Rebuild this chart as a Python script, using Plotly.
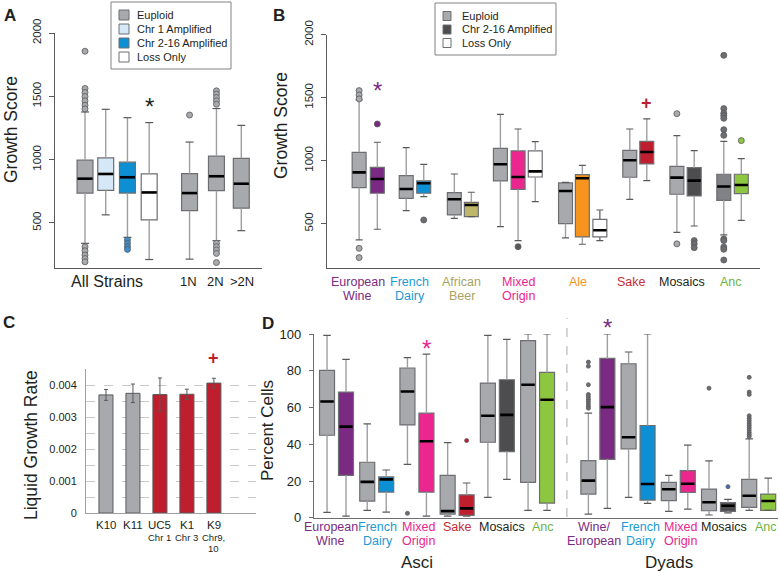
import plotly.graph_objects as go

W, H = 780, 572
FONT = "Liberation Sans, Arial, Helvetica, sans-serif"

GREY = "#A7A9AC"
DGREY = "#808285"
DARK = "#4D4D4F"
LBLUE = "#D5E8F7"
BLUE = "#0D8FD3"
WHITE = "#FFFFFF"
PURPLE = "#7B2A83"
PINK = "#EC268F"
OLIVE = "#BDB76B"
ORANGE = "#F7941D"
RED = "#BE1E2D"
GREEN = "#8DC63F"

# ---------------- Panel A data (growth score) ----------------
A_GROUP_LABELS = ["All Strains", "1N", "2N", ">2N"]
A_Q1 = [735, 756, 735, 523, 597, 754, 616]
A_MED = [849, 886, 860, 740, 735, 868, 809]
A_Q3 = [995, 1013, 979, 886, 889, 1027, 1010]
A_LO = [338, 563, 385, 210, 213, 359, 438]
A_HI = [1376, 1397, 1331, 1292, 1138, 1403, 1270]
A_OUT = [
    [1856, 1562, 1530, 1498, 1464, 1429, 1400, 311, 279, 245, 218, 192],
    [],
    [364, 337, 311, 290],
    [],
    [1352],
    [1835, 1543, 1517, 1490, 1464, 1437, 338, 311, 285, 258, 186],
    [],
]
A_LEGEND = ["Euploid", "Chr 1 Amplified", "Chr 2-16 Amplified", "Loss Only"]

# ---------------- Panel B data (growth score by clade) ----------------
B_LABEL1 = ["European", "French", "African", "Mixed", "Ale", "Sake", "Mosaics", "Anc"]
B_LABEL2 = ["Wine", "Dairy", "Beer", "Origin", "", "", "", ""]
B_Q1 = [786, 741, 701, 741, 569, 556, 839, 772, 870, 500, 394, 394, 868, 974, 733, 720, 685, 738]
B_MED = [907, 854, 775, 820, 693, 648, 971, 870, 915, 759, 860, 447, 1003, 1069, 865, 841, 794, 807]
B_Q3 = [1066, 947, 881, 839, 746, 669, 1098, 1077, 1077, 823, 889, 534, 1082, 1153, 955, 944, 892, 892]
B_LO = [370, 455, 603, 714, 542, 556, 476, 365, 675, 386, 336, 365, 693, 841, 431, 481, 410, 526]
B_HI = [1482, 1146, 1103, 971, 894, 749, 1368, 1251, 1151, 828, 963, 608, 1251, 1331, 1198, 1079, 1153, 1016]
B_OUT = [
    [1556, 1521, 1490, 304, 230], [1291],
    [], [529],
    [], [],
    [], [317], [],
    [], [], [],
    [], [],
    [1373, 339], [365, 339, 309],
    [1836, 1413, 1376, 1357, 1336, 1246, 1201, 378, 365, 315, 296, 211], [1159],
]
B_LEGEND = ["Euploid", "Chr 2-16 Amplified", "Loss Only"]

# ---------------- Panel C data (liquid growth rate) ----------------
C_LABELS = ["K10", "K11", "UC5", "K1", "K9"]
C_SUB1 = ["", "", "Chr 1", "Chr 3", "Chr9,"]
C_SUB2 = ["", "", "", "", "10"]
C_VALUES = [0.00369, 0.00374, 0.00370, 0.00371, 0.00406]
C_ERR = [0.00017, 0.00029, 0.00052, 0.00016, 0.00015]
C_TICKS = [0, 0.001, 0.002, 0.003, 0.004]
C_TICKTEXT = ["0", "0.001", "0.002", "0.003", "0.004"]

# ---------------- Panel D data (percent cells) ----------------
D_ASCI_L1 = ["European", "French", "Mixed", "Sake", "Mosaics", "Anc"]
D_ASCI_L2 = ["Wine", "Dairy", "Origin", "", "", ""]
D_DYAD_L1 = ["Wine/", "French", "Mixed", "Mosaics", "Anc"]
D_DYAD_L2 = ["European", "Dairy", "Origin", "", ""]
D_Q1 = [44.9, 23.1, 9.1, 14.0, 50.5, 14.0, 2.0, 1.3, 41.1, 36.0, 19.3, 8.0,
        12.9, 31.8, 37.5, 9.6, 9.3, 13.8, 3.8, 3.5, 5.6, 4.0]
D_MED = [63.3, 49.6, 19.5, 20.9, 68.7, 41.6, 3.6, 5.1, 55.5, 56.0, 72.4, 64.2,
         20.2, 60.2, 43.8, 18.4, 15.5, 18.5, 8.4, 6.5, 12.0, 9.1]
D_Q3 = [80.2, 68.4, 30.2, 22.2, 81.5, 56.9, 23.1, 12.5, 73.3, 75.1, 96.4, 79.1,
        31.1, 86.7, 83.8, 50.2, 19.3, 25.6, 15.6, 8.2, 20.9, 12.9]
D_LO = [2.9, 0.9, 4.0, 3.1, 29.1, 0.9, 0.9, 0.9, 11.1, 20.9, 4.0, 4.0,
        2.0, 5.1, 11.1, 7.8, 3.5, 4.7, 1.5, 2.7, 4.0, 4.0]
D_HI = [99.3, 86.2, 51.1, 26.0, 87.1, 89.1, 40.9, 18.9, 99.3, 97.1, 100, 100,
        56.9, 100, 90.2, 100, 23.1, 39.5, 30.9, 10.0, 42.9, 21.6]
D_OUT = [[], [], [], [], [2.4], [], [], [42.0], [], [], [], [],
         [100.2, 84.7, 82.5, 72.4, 67.1, 65.8, 64.5, 63.3, 62.0, 60.7, 59.6], [],
         [], [], [], [], [70.5], [16.9],
         [76.4, 68.4, 67.1, 55.5, 54.2, 52.9, 51.6, 50.4, 49.1, 47.8, 46.5, 45.3, 44.2], []]
D_TICKS = [0, 20, 40, 60, 80, 100]

# ---------------- layout positions / styles ----------------
A_POS = [1.45, 2.45, 3.5, 4.55, 6.5, 7.8, 9.0]
A_FILL = [GREY, LBLUE, BLUE, WHITE, GREY, GREY, GREY]
A_OUTC = [GREY, GREY, "#3A8FD0", GREY, GREY, GREY, GREY]
A_LABEL_POS = [2.51, 6.47, 7.73, 9.03]
A_LABEL_SIZE = [16, 13, 13, 13]

B_POS = [1.89, 2.96, 4.66, 5.69, 7.49, 8.49, 10.2, 11.24, 12.25,
         14.03, 15.02, 16.05, 17.81, 18.81, 20.58, 21.6, 23.34, 24.37]
B_FILL = [GREY, PURPLE, GREY, BLUE, GREY, OLIVE, GREY, PINK, WHITE,
          GREY, ORANGE, WHITE, GREY, RED, GREY, DARK, DGREY, GREEN]
B_OUTC = [GREY, PURPLE, GREY, "#6D6E71", GREY, GREY, GREY, "#58595B", GREY,
          GREY, GREY, GREY, GREY, GREY, GREY, "#6D6E71", "#6D6E71", GREEN]
B_DASHED = [False] * 11 + [True] + [False] * 6
B_LABEL_POS = [1.82, 4.88, 7.94, 11.24, 14.76, 17.94, 20.88, 23.76]
B_LABEL_COL = [PURPLE, "#1B9AD6", "#A9A35E", PINK, ORANGE, "#C62B32", "#231F20", "#6DB33F"]

C_POS = [1, 2, 3, 4, 5]
C_COL = [GREY, GREY, RED, RED, RED]

D_GROUPS = [0, 0, 1, 1, 2, 2, 3, 3, 4, 4, 5, 5, 6.5, 6.5, 7.5, 7.5, 8.5, 8.5, 9.5, 9.5, 10.5, 10.5]
D_POS = [g + (-0.236 if i % 2 == 0 else 0.236) for i, g in enumerate(D_GROUPS)]
D_FILL = [GREY, PURPLE, GREY, BLUE, GREY, PINK, GREY, RED, GREY, DARK, GREY, GREEN,
          GREY, PURPLE, GREY, BLUE, GREY, PINK, GREY, DARK, GREY, GREEN]
D_OUTC = ["#6D6E71"] * 22
D_OUTC[7] = RED
D_OUTC[19] = "#3F6FAE"
D_ASCI_POS = [-0.14, 1.03, 2.05, 3.0, 4.12, 5.14]
D_DYAD_POS = [6.41, 7.57, 8.56, 9.63, 10.68]
D_LCOL_A = [PURPLE, "#1B9AD6", PINK, "#C62B32", "#231F20", "#6DB33F"]
D_LCOL_D = [PURPLE, "#1B9AD6", PINK, "#231F20", "#6DB33F"]


def px(x):
    return x / W


def py(y):
    return 1 - y / H


fig = go.Figure()


def add_boxes(ax, pos, q1, med, q3, lo, hi, fills, w, outs, outc, msize, dashed=None):
    xa, ya = "x" + ax, "y" + ax
    if dashed is None:
        dashed = [False] * len(pos)
    for style in (False, True):
        wx, wy = [], []
        for i, p in enumerate(pos):
            if dashed[i] != style:
                continue
            wx += [p, p, None, p, p, None]
            wy += [q3[i], hi[i], None, q1[i], lo[i], None]
        if wx:
            fig.add_trace(go.Scatter(x=wx, y=wy, mode="lines",
                                     line=dict(color="#9D9FA2" if not style else "#6D6E71",
                                               width=1.4, dash="dash" if style else "solid"),
                                     xaxis=xa, yaxis=ya, hoverinfo="skip", showlegend=False))
    cx, cy = [], []
    for i, p in enumerate(pos):
        cx += [p - w / 4, p + w / 4, None, p - w / 4, p + w / 4, None]
        cy += [hi[i], hi[i], None, lo[i], lo[i], None]
    fig.add_trace(go.Scatter(x=cx, y=cy, mode="lines", line=dict(color="#58595B", width=1.2),
                             xaxis=xa, yaxis=ya, hoverinfo="skip", showlegend=False))
    for i, p in enumerate(pos):
        fig.add_trace(go.Box(x=[p], q1=[q1[i]], median=[med[i]], q3=[q3[i]],
                             lowerfence=[q1[i]], upperfence=[q3[i]], width=w, whiskerwidth=0,
                             fillcolor=fills[i], line=dict(color="#6D6E71", width=1.2),
                             boxpoints=False, xaxis=xa, yaxis=ya, hoverinfo="skip",
                             showlegend=False))
    mx, my = [], []
    for i, p in enumerate(pos):
        mx += [p - w / 2 + 0.02, p + w / 2 - 0.02, None]
        my += [med[i], med[i], None]
    fig.add_trace(go.Scatter(x=mx, y=my, mode="lines", line=dict(color="black", width=2.6),
                             xaxis=xa, yaxis=ya, hoverinfo="skip", showlegend=False))
    for i, o in enumerate(outs):
        if o:
            fig.add_trace(go.Scatter(x=[pos[i]] * len(o), y=o, mode="markers",
                                     marker=dict(size=msize, color=outc[i],
                                                 line=dict(color="#58595B", width=0.8)),
                                     cliponaxis=False, xaxis=xa, yaxis=ya,
                                     hoverinfo="skip", showlegend=False))


add_boxes("", A_POS, A_Q1, A_MED, A_Q3, A_LO, A_HI, A_FILL, 0.77, A_OUT, A_OUTC, 6)
add_boxes("2", B_POS, B_Q1, B_MED, B_Q3, B_LO, B_HI, B_FILL, 0.82, B_OUT, B_OUTC, 6, B_DASHED)
add_boxes("4", D_POS, D_Q1, D_MED, D_Q3, D_LO, D_HI, D_FILL, 0.373, D_OUT, D_OUTC, 4)

fig.add_trace(go.Bar(x=C_POS, y=C_VALUES, width=0.52,
                     marker=dict(color=C_COL, line=dict(color="#58595B", width=1)),
                     error_y=dict(type="data", array=C_ERR, color="#58595B", thickness=1, width=2),
                     xaxis="x3", yaxis="y3", hoverinfo="skip", showlegend=False))

AX_LINE = "#58595B"
TFONT = dict(family=FONT, size=11.5, color="#231F20")

layout = dict(
    template="none",
    width=W, height=H, margin=dict(l=0, r=0, t=0, b=0, pad=0, autoexpand=False),
    paper_bgcolor="white", plot_bgcolor="white", showlegend=False,
    font=dict(family=FONT, color="#231F20"),
    xaxis=dict(domain=[px(55), px(262)], range=[0, 10], anchor="y", showline=True,
               linecolor=AX_LINE, linewidth=1.2, showticklabels=False, ticks="",
               showgrid=False, zeroline=False, automargin=False),
    yaxis=dict(domain=[py(268), py(33)], range=[143, 2000], anchor="x", showline=True,
               linecolor=AX_LINE, linewidth=1.2, tickvals=[500, 1000, 1500, 2000],
               tickangle=-90, ticks="outside", ticklen=5, tickcolor=AX_LINE,
               tickfont=TFONT, showgrid=False, zeroline=False, ticklabelstandoff=3,
               automargin=False),
    xaxis2=dict(domain=[px(327), px(760)], range=[0, 25.47], anchor="y2", showline=True,
                linecolor=AX_LINE, linewidth=1.2, showticklabels=False, ticks="",
                showgrid=False, zeroline=False, automargin=False),
    yaxis2=dict(domain=[py(268.3), py(34.7)], range=[145, 2000], anchor="x2", showline=True,
                linecolor=AX_LINE, linewidth=1.2, tickvals=[500, 1000, 1500, 2000],
                tickangle=-90, ticks="outside", ticklen=5, tickcolor=AX_LINE,
                tickfont=TFONT, showgrid=False, zeroline=False, ticklabelstandoff=3,
                automargin=False),
    xaxis3=dict(domain=[px(86), px(256)], range=[0.26, 6.56], anchor="y3", showline=True,
                linecolor="#9D9FA2", linewidth=1.2, showticklabels=False, ticks="",
                showgrid=False, zeroline=False, automargin=False),
    yaxis3=dict(domain=[py(513), py(369)], range=[0, 0.0045], anchor="x3", showline=True,
                linecolor="#9D9FA2", linewidth=1, tickvals=C_TICKS, ticktext=C_TICKTEXT,
                ticks="", tickfont=dict(family=FONT, size=11, color="#231F20"),
                showgrid=True, gridcolor="#C8C8C8", griddash="dash", gridwidth=1,
                minor=dict(tickvals=[0.0005, 0.0015, 0.0025, 0.0035, 0.0045], showgrid=True,
                           gridcolor="#C8C8C8", griddash="dash", ticks=""),
                zeroline=False, ticklabelstandoff=6, automargin=False),
    xaxis4=dict(domain=[px(314), px(778)], range=[-0.56, 10.98], anchor="y4", showline=True,
                linecolor="#6D6E71", linewidth=1.2, showticklabels=False, ticks="",
                showgrid=False, zeroline=False, automargin=False),
    yaxis4=dict(domain=[py(517.75), py(334)], range=[0, 100], anchor="x4", showline=True,
                linecolor="#6D6E71", linewidth=1.2, tickvals=D_TICKS, ticks="outside",
                ticklen=4, tickcolor="#6D6E71",
                tickfont=dict(family=FONT, size=13, color="#231F20"),
                showgrid=False, zeroline=False, ticklabelstandoff=5, automargin=False),
)
fig.update_layout(**layout)

ann = []
shapes = []


def text(x, y, s, size, color="#231F20", xref="paper", yref="paper", angle=0, bold=False,
         xanchor="center", yanchor="middle"):
    ann.append(dict(x=x, y=y, xref=xref, yref=yref, text=("<b>%s</b>" % s) if bold else s,
                    showarrow=False, textangle=angle, xanchor=xanchor, yanchor=yanchor,
                    font=dict(family=FONT, size=size, color=color)))


# panel letters
text(px(10), py(15), "A", 17, bold=True)
text(px(279), py(15), "B", 17, bold=True)
text(px(9), py(322), "C", 17, bold=True)
text(px(268), py(323), "D", 17, bold=True)

# axis titles
text(px(11), py(130), "Growth Score", 17.5, angle=-90)
text(px(281), py(126), "Growth Score", 17.5, angle=-90)
text(px(31), py(445), "Liquid Growth Rate", 17.5, angle=-90)
text(px(267), py(431), "Percent Cells", 17, angle=-90)

# panel A category labels
for lab, pos, sz in zip(A_GROUP_LABELS, A_LABEL_POS, A_LABEL_SIZE):
    text(pos, py(281), lab, sz, xref="x")

# panel B category labels
for l1, l2, pos, col in zip(B_LABEL1, B_LABEL2, B_LABEL_POS, B_LABEL_COL):
    text(pos, py(282), l1, 12.5, color=col, xref="x2")
    if l2:
        text(pos, py(296), l2, 12.5, color=col, xref="x2")

# panel C labels
for lab, s1, s2, pos in zip(C_LABELS, C_SUB1, C_SUB2, C_POS):
    text(pos, py(525), lab, 11.5, xref="x3")
    if s1:
        text(pos, py(537), s1, 9.5, xref="x3")
    if s2:
        text(pos, py(548), s2, 9.5, xref="x3")

# panel D labels
for l1, l2, pos, col in zip(D_ASCI_L1, D_ASCI_L2, D_ASCI_POS, D_LCOL_A):
    text(pos, py(527), l1, 12.5, color=col, xref="x4")
    if l2:
        text(pos, py(541), l2, 12.5, color=col, xref="x4")
for l1, l2, pos, col in zip(D_DYAD_L1, D_DYAD_L2, D_DYAD_POS, D_LCOL_D):
    text(pos, py(527), l1, 12.5, color=col, xref="x4")
    if l2:
        text(pos, py(541), l2, 12.5, color=col, xref="x4")
text(px(417), py(562), "Asci", 17)
text(px(669), py(562), "Dyads", 17)

# significance marks
text(A_POS[3], py(106), "*", 24, xref="x")
text(B_POS[1], py(91), "*", 24, color=PURPLE, xref="x2")
text(B_POS[13], py(103), "+", 18, color=RED, xref="x2", bold=True)
text(C_POS[4], py(358), "+", 18, color=RED, xref="x3", bold=True)
text(D_POS[5], py(348), "*", 24, color=PINK, xref="x4")
text(D_POS[13], py(327), "*", 24, color=PURPLE, xref="x4")

# dashed separator in D
shapes.append(dict(type="line", xref="x4", yref="paper", x0=5.73, x1=5.73, y0=py(517),
                   y1=py(318), line=dict(color="#BCBEC0", width=1.3, dash="dash")))

# legend A
shapes.append(dict(type="rect", xref="paper", yref="paper", x0=px(111), x1=px(231),
                   y0=py(69), y1=py(2), line=dict(color="#808285", width=1),
                   fillcolor="white"))
for i, (lab, col) in enumerate(zip(A_LEGEND, [GREY, LBLUE, BLUE, WHITE])):
    yc = 15 + i * 14
    shapes.append(dict(type="rect", xref="paper", yref="paper", x0=px(119), x1=px(129),
                       y0=py(yc + 5), y1=py(yc - 5), line=dict(color="#6D6E71", width=1),
                       fillcolor=col))
    text(px(135), py(yc), lab, 11, xanchor="left")

# legend B
shapes.append(dict(type="rect", xref="paper", yref="paper", x0=px(435), x1=px(556),
                   y0=py(55), y1=py(3), line=dict(color="#808285", width=1),
                   fillcolor="white"))
for i, (lab, col) in enumerate(zip(B_LEGEND, [GREY, DARK, WHITE])):
    yc = 16 + i * 13.5
    shapes.append(dict(type="rect", xref="paper", yref="paper", x0=px(443), x1=px(451),
                       y0=py(yc + 4.5), y1=py(yc - 4.5), line=dict(color="#6D6E71", width=1),
                       fillcolor=col))
    text(px(460), py(yc), lab, 11, xanchor="left")

fig.update_layout(annotations=ann, shapes=shapes)
fig.write_html("out.html", config={"displayModeBar": False},
               post_script="document.body.style.margin='0';document.body.style.padding='0';"
                           "document.body.style.overflow='hidden';")
